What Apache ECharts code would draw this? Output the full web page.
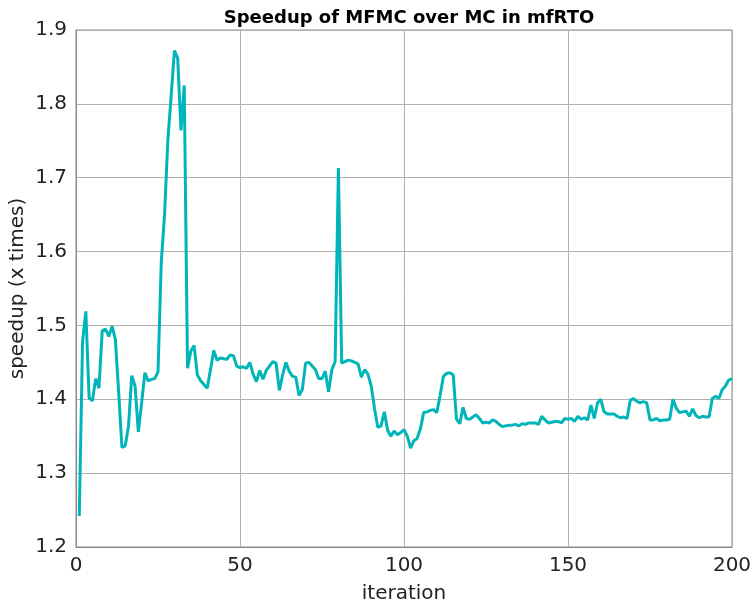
<!DOCTYPE html>
<html>
<head>
<meta charset="utf-8">
<script src="https://cdn.jsdelivr.net/npm/echarts@6/dist/echarts.min.js"></script>
<style>
  html, body { margin: 0; padding: 0; background: #fff; }
  #main { width: 753px; height: 605px; }
</style>
</head>
<body>
<div id="main"></div>
<script>
// speedup per iteration (1..200)
var speedup = [
  1.242, 1.478, 1.519, 1.402, 1.398, 1.428, 1.415, 1.493, 1.495, 1.485,
  1.499, 1.481, 1.410, 1.335, 1.337, 1.363, 1.432, 1.418, 1.356, 1.395,
  1.436, 1.425, 1.427, 1.428, 1.437, 1.586, 1.650, 1.751, 1.810, 1.872,
  1.862, 1.764, 1.825, 1.442, 1.465, 1.473, 1.433, 1.425, 1.420, 1.415,
  1.440, 1.466, 1.453, 1.456, 1.455, 1.454, 1.460, 1.459, 1.445, 1.443,
  1.444, 1.442, 1.450, 1.434, 1.424, 1.439, 1.427, 1.439, 1.445, 1.451,
  1.449, 1.412, 1.433, 1.450, 1.438, 1.431, 1.430, 1.405, 1.413, 1.449,
  1.450, 1.445, 1.440, 1.428, 1.428, 1.438, 1.410, 1.440, 1.451, 1.713,
  1.449, 1.451, 1.453, 1.452, 1.450, 1.448, 1.430, 1.440, 1.434, 1.418,
  1.388, 1.362, 1.364, 1.383, 1.358, 1.350, 1.357, 1.352, 1.355, 1.359,
  1.350, 1.334, 1.344, 1.347, 1.360, 1.382, 1.383, 1.385, 1.386, 1.382,
  1.405, 1.431, 1.435, 1.436, 1.433, 1.373, 1.367, 1.389, 1.374, 1.373,
  1.376, 1.379, 1.374, 1.368, 1.369, 1.368, 1.372, 1.370, 1.366, 1.363,
  1.364, 1.365, 1.365, 1.366, 1.364, 1.367, 1.366, 1.368, 1.368, 1.368,
  1.366, 1.377, 1.372, 1.368, 1.369, 1.370, 1.370, 1.368, 1.374, 1.373,
  1.374, 1.370, 1.377, 1.373, 1.375, 1.372, 1.392, 1.374, 1.395, 1.400,
  1.383, 1.380, 1.380, 1.380, 1.377, 1.375, 1.376, 1.374, 1.399, 1.401,
  1.397, 1.395, 1.397, 1.395, 1.372, 1.372, 1.374, 1.371, 1.372, 1.372,
  1.373, 1.400, 1.388, 1.382, 1.383, 1.384, 1.377, 1.387, 1.378, 1.375,
  1.377, 1.376, 1.376, 1.401, 1.404, 1.401, 1.413, 1.418, 1.426, 1.428
];
var iterations = speedup.map(function (v, i) { return i + 1; });

var xTicks = [0, 50, 100, 150, 200];
var yTicks = [1.2, 1.3, 1.4, 1.5, 1.6, 1.7, 1.8, 1.9];

var points = iterations.map(function (it, i) { return [it, speedup[i]]; });

var myChart = echarts.init(document.getElementById('main'));
var font = 'DejaVu Sans';
var option = {
    animation: false,
    title: {
        text: 'Speedup of MFMC over MC in mfRTO',
        left: 404, top: 4, textAlign: 'center',
        textStyle: { fontFamily: font, fontSize: 18, fontWeight: 'bold', color: '#000' }
    },
    grid: {
        left: 76, right: 21, top: 30, bottom: 58,
        outerBoundsMode: 'none', containLabel: false,
        show: true, borderColor: '#8a8a8a', borderWidth: 1
    },
    xAxis: {
        type: 'value',
        min: xTicks[0], max: xTicks[xTicks.length - 1], interval: 50,
        name: 'iteration', nameLocation: 'middle', nameGap: 37, nameMoveOverlap: false,
        nameTextStyle: { fontFamily: font, fontSize: 20, color: '#222' },
        axisLine: { show: true, lineStyle: { color: '#8a8a8a' } },
        axisTick: { show: false },
        axisLabel: { fontFamily: font, fontSize: 20, color: '#222', margin: 9 },
        splitLine: { show: true, lineStyle: { color: '#b0b0b0', width: 1 } }
    },
    yAxis: {
        type: 'value',
        min: yTicks[0], max: yTicks[yTicks.length - 1], interval: 0.1,
        name: 'speedup (x times)', nameLocation: 'middle', nameGap: 48, nameMoveOverlap: false,
        nameTextStyle: { fontFamily: font, fontSize: 20, color: '#222' },
        axisLine: { show: true, lineStyle: { color: '#8a8a8a' } },
        axisTick: { show: false },
        axisLabel: {
            fontFamily: font, fontSize: 20, color: '#222', margin: 9,
            formatter: function (v) { return v.toFixed(1); }
        },
        splitLine: { show: true, lineStyle: { color: '#b0b0b0', width: 1 } }
    },
    series: [{
        type: 'line',
        data: points,
        showSymbol: false,
        lineStyle: { color: '#00b5b9', width: 3 },
        itemStyle: { color: '#00b5b9' }
    }]
};
myChart.setOption(option);
</script>
</body>
</html>
